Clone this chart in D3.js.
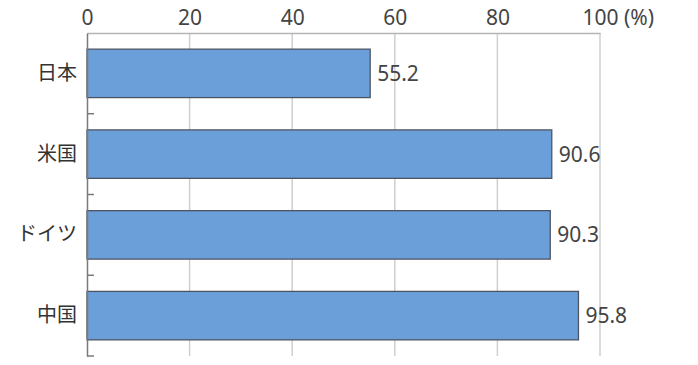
<!DOCTYPE html>
<html>
<head>
<meta charset="utf-8">
<script src="https://cdn.jsdelivr.net/npm/d3@7"></script>
<style>
  body { margin: 0; background: #fff; }
  text { font-family: "Noto Sans", "Noto Sans CJK JP", sans-serif; }
</style>
</head>
<body>
<script>
const categories = ['日本', '米国', 'ドイツ', '中国']
const values = [55.2, 90.6, 90.3, 95.8]
const tickValues = [0, 20, 40, 60, 80, 100]

const width = 698, height = 365
const margin = { top: 33, right: 98, bottom: 9, left: 87 }

const svg = d3.select('body').append('svg')
  .attr('width', width)
  .attr('height', height)

const x = d3.scaleLinear().domain([0, 100]).range([margin.left, width - margin.right])
const y = d3.scaleBand().domain(categories)
  .range([margin.top, height - margin.bottom])
  .paddingInner(0.4).paddingOuter(0.2)

// vertical gridlines
svg.append('g')
  .selectAll('line')
  .data(tickValues.slice(1))
  .join('line')
  .attr('x1', d => x(d)).attr('x2', d => x(d))
  .attr('y1', margin.top).attr('y2', height - margin.bottom)
  .attr('stroke', '#cfcfcf')
  .attr('stroke-width', 1.5)

// top axis
const topAxis = svg.append('g')
  .attr('transform', `translate(0, ${margin.top})`)
  .call(d3.axisTop(x).tickValues(tickValues).tickSize(0).tickPadding(8))
topAxis.select('.domain').attr('stroke', '#b5b5b5').attr('stroke-width', 1.5)
topAxis.selectAll('text')
  .attr('font-size', 21)
  .attr('fill', '#444')
  .attr('font-family', '"Noto Sans", sans-serif')
// last tick gets the unit
const lastTick = topAxis.selectAll('.tick text').filter(d => d === 100)
const w100 = lastTick.node().getComputedTextLength()
lastTick.attr('text-anchor', 'start').attr('x', -w100 / 2).text('100 (%)')

// bars
svg.append('g')
  .selectAll('rect')
  .data(values)
  .join('rect')
  .attr('x', x(0))
  .attr('y', (d, i) => y(categories[i]))
  .attr('width', d => x(d) - x(0))
  .attr('height', y.bandwidth())
  .attr('fill', '#6a9fd9')
  .attr('stroke', '#4d5563')
  .attr('stroke-width', 1.3)

// value labels
svg.append('g')
  .selectAll('text')
  .data(values)
  .join('text')
  .attr('x', d => x(d) + 7)
  .attr('y', (d, i) => y(categories[i]) + y.bandwidth() / 2)
  .attr('dy', '0.36em')
  .attr('font-size', 21)
  .attr('fill', '#444')
  .text(d => d.toFixed(1))

// left axis
const leftAxis = svg.append('g')
  .attr('transform', `translate(${margin.left}, 0)`)
  .call(d3.axisLeft(y).tickSize(0).tickPadding(10).tickSizeOuter(0))
leftAxis.select('.domain').attr('stroke', '#7a7a7a').attr('stroke-width', 1.5)
leftAxis.selectAll('text')
  .attr('font-size', 20)
  .attr('fill', '#333')
  .attr('font-family', '"Noto Sans CJK JP", sans-serif')

// small ticks at category boundaries
svg.append('g')
  .selectAll('line')
  .data(categories)
  .join('line')
  .attr('x1', margin.left).attr('x2', margin.left + 7)
  .attr('y1', d => y(d) + y.bandwidth() + y.step() * y.paddingOuter())
  .attr('y2', d => y(d) + y.bandwidth() + y.step() * y.paddingOuter())
  .attr('stroke', '#7a7a7a')
  .attr('stroke-width', 1.5)
</script>
</body>
</html>
